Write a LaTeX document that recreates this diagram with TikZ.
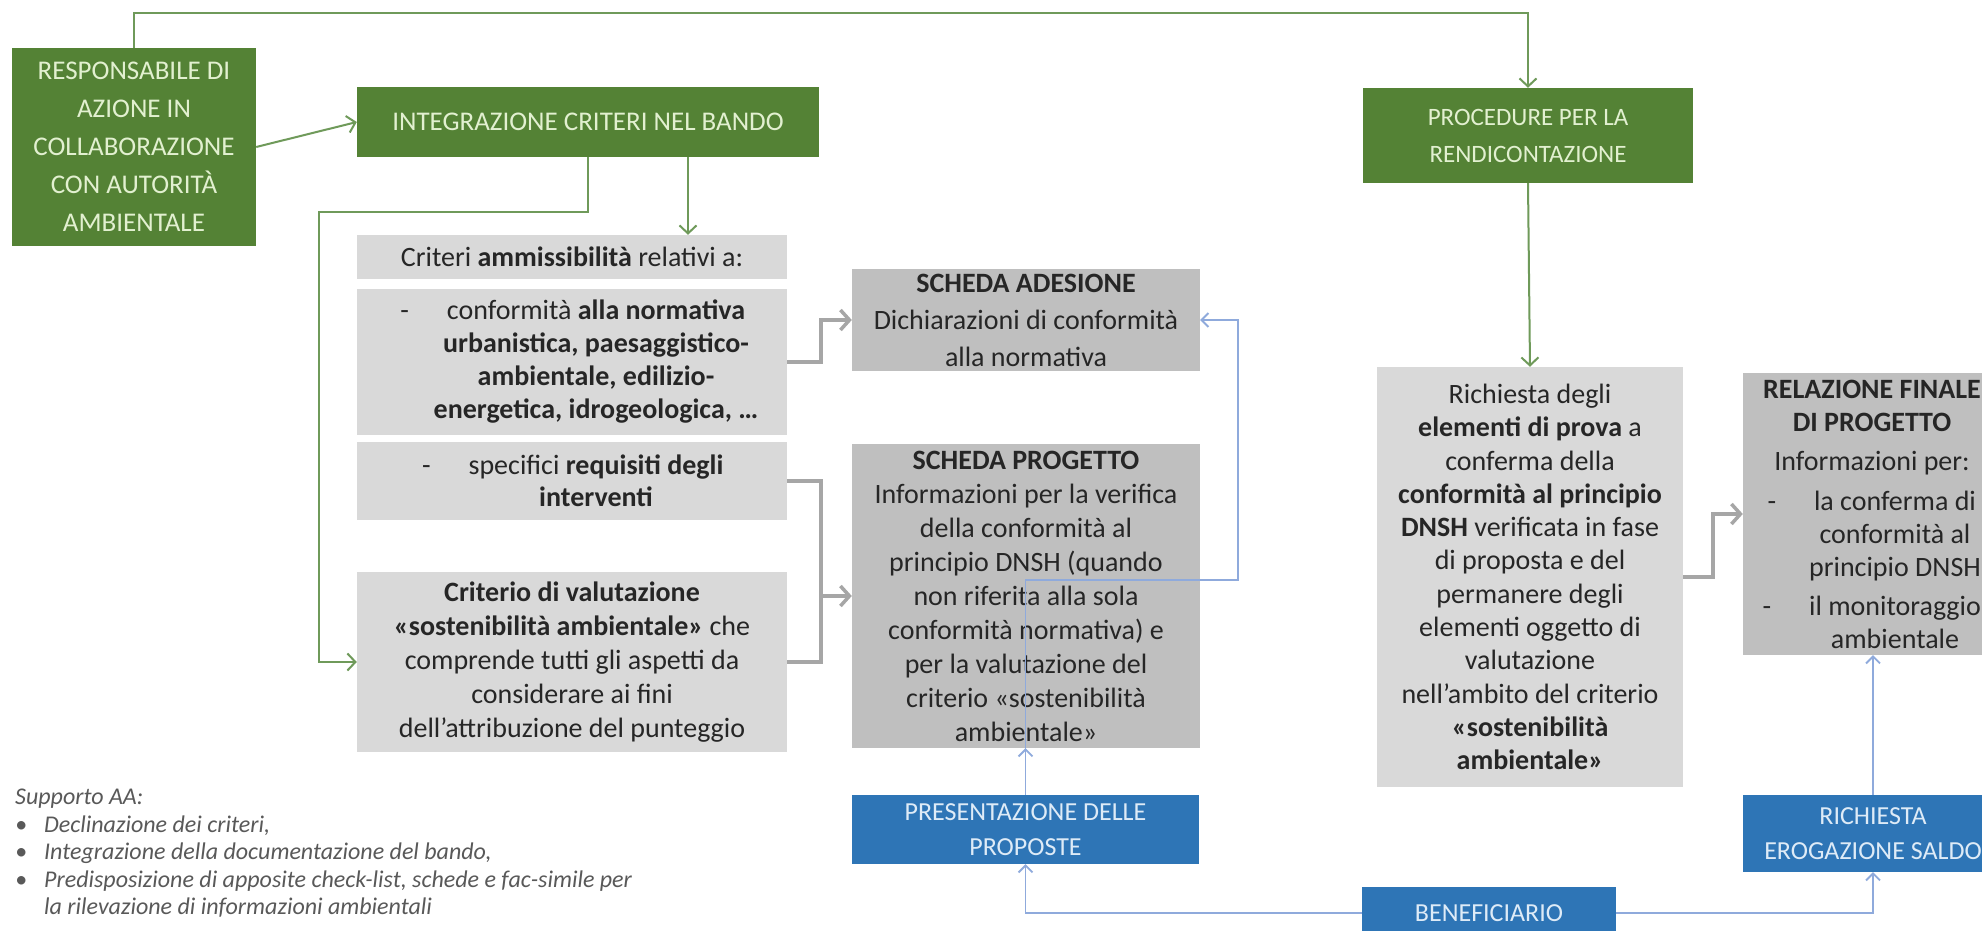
\documentclass[tikz,border=0pt]{standalone}
\usepackage{fontspec}
\setmainfont{Carlito}
\usetikzlibrary{arrows.meta}
\definecolor{cGreen}{HTML}{548235}
\definecolor{cGreenTxt}{HTML}{E2F0D0}
\definecolor{cGreenLn}{HTML}{6F9A5A}
\definecolor{cLight}{HTML}{D9D9D9}
\definecolor{cDark}{HTML}{BFBFBF}
\definecolor{cTxt}{HTML}{262626}
\definecolor{cGrayLn}{HTML}{A6A6A6}
\definecolor{cBlue}{HTML}{2E75B6}
\definecolor{cBlueTxt}{HTML}{DEEBF7}
\definecolor{cBlueLn}{HTML}{8FAADC}
\definecolor{cNote}{HTML}{595959}
\newcommand\setfs[2]{\fontsize{#1}{#2}\selectfont}
\begin{document}
\begin{tikzpicture}[x=1pt,y=-1pt,
  gbox/.style={fill=cGreen, text=cGreenTxt, align=center, inner sep=0pt},
  lbox/.style={fill=cLight, text=cTxt, align=center, inner sep=0pt, font=\setfs{28}{33}},
  dbox/.style={fill=cDark, text=cTxt, align=center, inner sep=0pt, font=\setfs{28}{34}},
  bbox/.style={fill=cBlue, text=cBlueTxt, align=center, inner sep=0pt, font=\setfs{26}{35}},
  garr/.style={draw=cGreenLn, line width=2pt, -{Straight Barb[length=8pt,width=17pt]}},
  kline/.style={draw=cGrayLn, line width=3.5pt},
  karr/.style={kline, -{Straight Barb[length=9pt,width=20pt]}},
  barr/.style={draw=cBlueLn, line width=1.8pt, -{Straight Barb[length=7pt,width=14pt]}},
  note/.style={text=cNote, align=left, inner sep=0pt, font=\setfs{24}{27.5}\itshape}
]
\clip (0,0) rectangle (1982,931);
\fill[white] (0,0) rectangle (1982,931);

% coordinates for connector bends
\coordinate (top) at (0,13);
\coordinate (g1) at (319,212);
\coordinate (a1) at (688,0);
\coordinate (e1) at (821,0);
\coordinate (e2) at (1713,0);
\coordinate (b1) at (1238,580);

% green boxes
\node[gbox, minimum width=244pt, minimum height=198pt, font=\setfs{27}{38}] (resp) at (134,147)
  {RESPONSABILE DI\\AZIONE IN\\COLLABORAZIONE\\CON AUTORITÀ\\AMBIENTALE};
\node[gbox, minimum width=462pt, minimum height=70pt, font=\setfs{27}{32}] (integ) at (588,122)
  {INTEGRAZIONE CRITERI NEL BANDO};
\node[gbox, minimum width=330pt, minimum height=95pt, font=\setfs{25}{37}] (proc) at (1528,135.5)
  {PROCEDURE PER LA\\RENDICONTAZIONE};

% light grey boxes (criteria)
\node[lbox, minimum width=430pt, minimum height=44pt] (crit1) at (572,257)
  {Criteri \textbf{ammissibilità} relativi a:};
\node[lbox, minimum width=430pt, minimum height=146pt] (conf) at (572,362)
  {\hspace*{48pt}\llap{-\hspace{38pt}}conformità \textbf{alla normativa}\\
   \hspace*{48pt}\textbf{urbanistica, paesaggistico-}\\
   \hspace*{48pt}\textbf{ambientale, edilizio-}\\
   \hspace*{48pt}\textbf{energetica, idrogeologica, …}};
\node[lbox, minimum width=430pt, minimum height=78pt, font=\setfs{28}{32}] (spec) at (572,481)
  {\hspace*{48pt}\llap{-\hspace{38pt}}specifici \textbf{requisiti degli}\\
   \hspace*{48pt}\textbf{interventi}};
\node[lbox, minimum width=430pt, minimum height=180pt, font=\setfs{28}{34}] (crit2) at (572,662)
  {\textbf{Criterio di valutazione}\\
   \textbf{«sostenibilità ambientale»} che\\
   comprende tutti gli aspetti da\\
   considerare ai fini\\
   dell’attribuzione del punteggio};

% dark grey boxes (schede)
\node[dbox, minimum width=348pt, minimum height=102pt, font=\setfs{28}{37}] (ades) at (1026,320)
  {\textbf{SCHEDA ADESIONE}\\Dichiarazioni di conformità\\alla normativa};
\node[dbox, minimum width=348pt, minimum height=304pt] (prog) at (1026,596)
  {\textbf{SCHEDA PROGETTO}\\
   Informazioni per la verifica\\
   della conformità al\\
   principio DNSH (quando\\
   non riferita alla sola\\
   conformità normativa) e\\
   per la valutazione del\\
   criterio «sostenibilità\\
   ambientale»};

% rendicontazione
\node[lbox, minimum width=306pt, minimum height=420pt, font=\setfs{28}{33.3}] (rich) at (1530,577)
  {Richiesta degli\\
   \textbf{elementi di prova} a\\
   conferma della\\
   \textbf{conformità al principio}\\
   \textbf{DNSH} verificata in fase\\
   di proposta e del\\
   permanere degli\\
   elementi oggetto di\\
   valutazione\\
   nell’ambito del criterio\\
   \textbf{«sostenibilità}\\
   \textbf{ambientale»}};
\node[dbox, minimum width=258pt, minimum height=282pt, font=\setfs{28}{33}] (rel) at (1872,514)
  {\textbf{RELAZIONE FINALE}\\
   \textbf{DI PROGETTO}\\[6pt]
   Informazioni per:\\[7pt]
   \hspace*{46pt}\llap{-\hspace{38pt}}la conferma di\\
   \hspace*{46pt}conformità al\\
   \hspace*{46pt}principio DNSH\\[6pt]
   \hspace*{46pt}\llap{-\hspace{38pt}}il monitoraggio\\
   \hspace*{46pt}ambientale};

% blue boxes
\node[bbox, minimum width=347pt, minimum height=69pt] (pres) at (1025.5,829.5)
  {PRESENTAZIONE DELLE\\PROPOSTE};
\node[bbox, minimum width=260pt, minimum height=77pt] (sald) at (1873,833.5)
  {RICHIESTA\\EROGAZIONE SALDO};
\node[bbox, minimum width=254pt, minimum height=52pt] (ben) at (1489,913)
  {BENEFICIARIO};

% note
\node[note, anchor=north west] (supp) at (15,789)
  {Supporto AA:\\
   \makebox[29pt][l]{•}Declinazione dei criteri,\\
   \makebox[29pt][l]{•}Integrazione della documentazione del bando,\\
   \makebox[29pt][l]{•}Predisposizione di apposite check-list, schede e fac-simile per\\
   \hspace*{29pt}la rilevazione di informazioni ambientali};

% green connectors
\draw[garr] (resp.east) -- (integ.west);
\draw[garr] (resp.north) -- (resp.north |- top) -- (proc.north |- top) -- (proc.north);
\draw[garr] (integ.south) |- (g1) |- (crit2.west);
\draw[garr] (integ.south -| a1) -- (crit1.north -| a1);
\draw[garr] (proc.south) -- (rich.north);

% grey connectors
\draw[karr] (conf.east) -- (conf.east -| e1) |- (ades.west);
\draw[kline] (spec.east) -- (spec.east -| e1) -- (crit2.east -| e1) -- (crit2.east);
\draw[karr] (prog.west -| e1) -- (prog.west);
\draw[karr] (rich.east) -- (rich.east -| e2) |- (rel.west);

% blue connectors
\draw[barr] (ben.west) -| (pres.south);
\draw[barr] (ben.east) -| (sald.south);
\draw[barr] (pres.north) -- (prog.south -| pres.north);
\draw[barr] (sald.north) -- (rel.south -| sald.north);
\draw[barr] (pres.north) -- (pres.north |- b1) -- (b1) |- (ades.east);
\end{tikzpicture}
\end{document}
